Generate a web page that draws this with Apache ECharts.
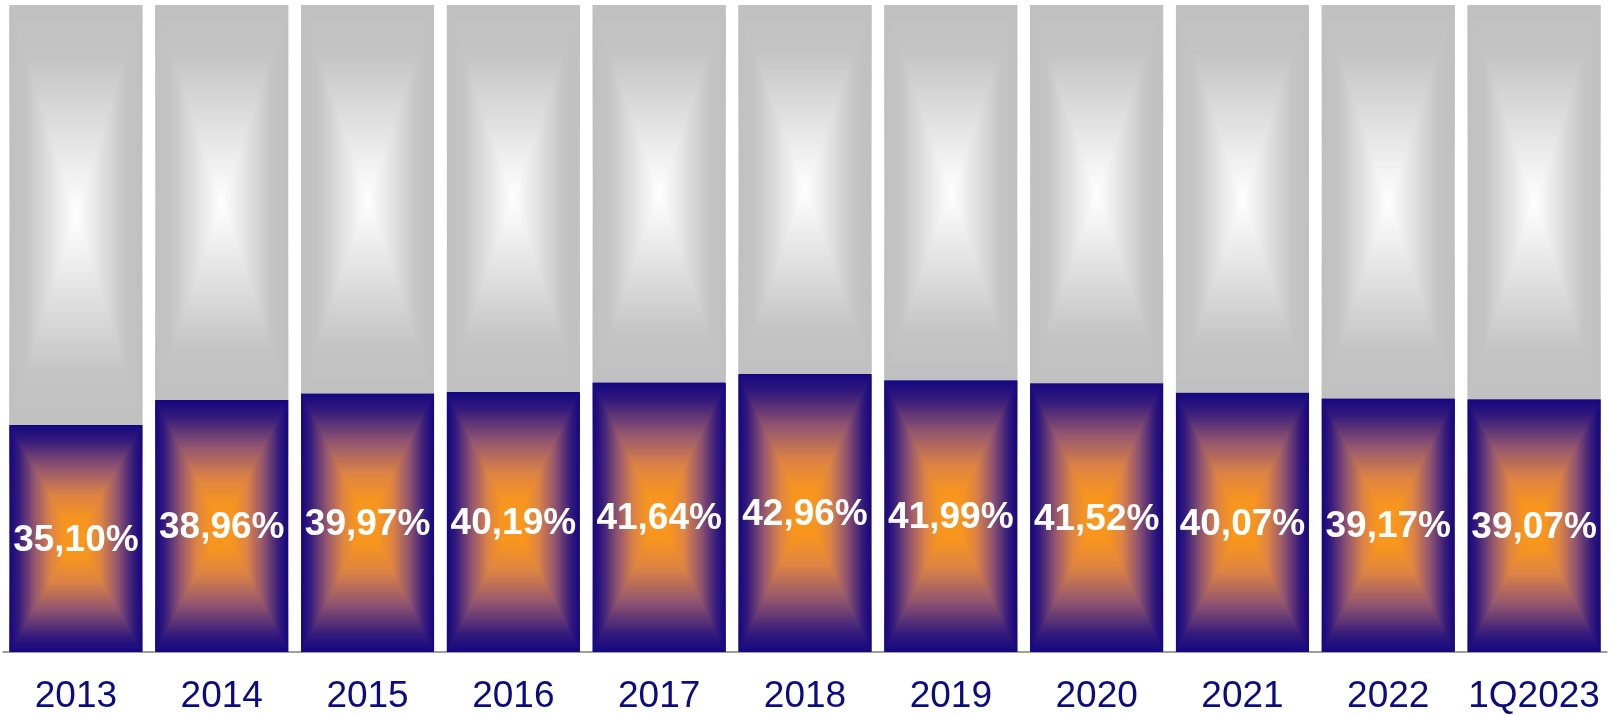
<!DOCTYPE html>
<html>
<head>
<meta charset="utf-8">
<script src="https://cdn.jsdelivr.net/npm/echarts@6/dist/echarts.min.js"></script>
<style>
  html, body { margin: 0; padding: 0; background: #fff; }
  #chart { width: 1615px; height: 715px; }
</style>
</head>
<body>
<div id="chart"></div>
<script>
// categories and share values (%)
const years = ['2013', '2014', '2015', '2016', '2017', '2018', '2019', '2020', '2021', '2022', '1Q2023']
const shares = [35.10, 38.96, 39.97, 40.19, 41.64, 42.96, 41.99, 41.52, 40.07, 39.17, 39.07]

const blueStops = [
  { offset: 0, color: '#140780' },
  { offset: 0.13, color: '#32197c' },
  { offset: 0.38, color: '#93566f' },
  { offset: 0.62, color: '#dc8345' },
  { offset: 0.82, color: '#f7941f' },
  { offset: 1, color: '#f99a1c' }
]
const greyStops = [
  { offset: 0, color: '#c0c0c0' },
  { offset: 0.25, color: '#c4c4c4' },
  { offset: 1, color: '#ffffff' }
]

function grad(x, y, x2, y2, stops) {
  return { type: 'linear', x: x, y: y, x2: x2, y2: y2, colorStops: stops }
}

// rectangular "from center" gradient: two half rects + side triangles on top
function rectBlock(x, y, w, h, stops) {
  let cx = x + w / 2
  let cy = y + h / 2
  return [
    { type: 'rect', shape: { x: x, y: y, width: w, height: h / 2 }, style: { fill: grad(0, 0, 0, 1, stops) } },
    { type: 'rect', shape: { x: x, y: cy, width: w, height: h / 2 }, style: { fill: grad(0, 1, 0, 0, stops) } },
    { type: 'polygon', shape: { points: [[x, y], [x, y + h], [cx, cy]] }, style: { fill: grad(0, 0, 1, 0, stops) } },
    { type: 'polygon', shape: { points: [[x + w, y], [x + w, y + h], [cx, cy]] }, style: { fill: grad(1, 0, 0, 0, stops) } }
  ]
}

function renderItem(params, api) {
  let i = api.value(0)
  let v = api.value(1)
  let base = api.coord([i, 0])
  let mid = api.coord([i, v])
  let full = api.coord([i, 100])
  let bw = api.size([1, 0])[0] * 0.912
  let x = base[0] - bw / 2
  let children = []
  children = children.concat(rectBlock(x, full[1], bw, mid[1] - full[1], greyStops))
  children = children.concat(rectBlock(x, mid[1], bw, base[1] - mid[1], blueStops))
  children.push({
    type: 'text',
    style: {
      text: v.toFixed(2).replace('.', ',') + '%',
      x: base[0],
      y: (mid[1] + base[1]) / 2 + 2,
      align: 'center',
      verticalAlign: 'middle',
      textAlign: 'center',
      textVerticalAlign: 'middle',
      fill: '#ffffff',
      font: 'bold 37px Arial, "Liberation Sans", sans-serif'
    }
  })
  return { type: 'group', children: children }
}

const chart = echarts.init(document.getElementById('chart'))
chart.setOption({
  animation: false,
  grid: { left: 3, right: 8, top: 5, bottom: 63, containLabel: false, outerBoundsMode: 'none' },
  xAxis: {
    type: 'category',
    data: years,
    axisLine: { lineStyle: { color: '#7f7f7f', width: 1.5 } },
    axisTick: { show: false },
    axisLabel: {
      interval: 0,
      color: '#0c0c80',
      fontSize: 37,
      fontFamily: 'Arial, "Liberation Sans", sans-serif',
      margin: 26
    }
  },
  yAxis: { type: 'value', min: 0, max: 100, show: false, splitLine: { show: false } },
  series: [{
    type: 'custom',
    renderItem: renderItem,
    data: shares.map((v, i) => [i, v])
  }]
})
</script>
</body>
</html>
